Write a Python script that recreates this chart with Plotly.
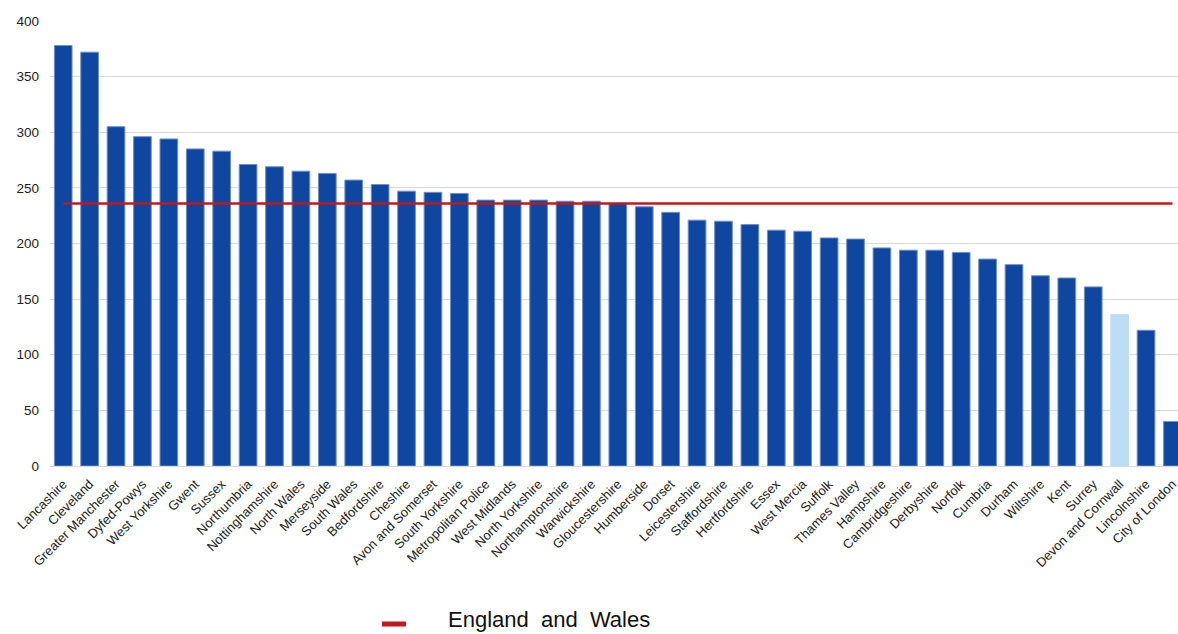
import plotly.graph_objects as go

forces = ["Lancashire", "Cleveland", "Greater Manchester", "Dyfed-Powys", "West Yorkshire",
          "Gwent", "Sussex", "Northumbria", "Nottinghamshire", "North Wales", "Merseyside",
          "South Wales", "Bedfordshire", "Cheshire", "Avon and Somerset", "South Yorkshire",
          "Metropolitan Police", "West Midlands", "North Yorkshire", "Northamptonshire",
          "Warwickshire", "Gloucestershire", "Humberside", "Dorset", "Leicestershire",
          "Staffordshire", "Hertfordshire", "Essex", "West Mercia", "Suffolk", "Thames Valley",
          "Hampshire", "Cambridgeshire", "Derbyshire", "Norfolk", "Cumbria", "Durham",
          "Wiltshire", "Kent", "Surrey", "Devon and Cornwall", "Lincolnshire", "City of London"]
values = [378, 372, 305, 296, 294, 285, 283, 271, 269, 265, 263, 257, 253, 247, 246, 245,
          239, 239, 239, 238, 238, 236, 233, 228, 221, 220, 217, 212, 211, 205, 204, 196,
          194, 194, 192, 186, 181, 171, 169, 161, 136, 122, 40]
highlight = "Devon and Cornwall"
england_wales = 236
y_ticks = [0, 50, 100, 150, 200, 250, 300, 350, 400]

DARK = "#0F47A0"
LIGHT = "#BDDDF7"
RED = "#C0191F"

idx = list(range(len(forces)))
colors = [LIGHT if f == highlight else DARK for f in forces]
edge = ["rgba(189,221,247,1)" if f == highlight else "#6F8FCB" for f in forces]

fig = go.Figure()
fig.add_trace(go.Bar(
    x=idx, y=values, width=0.67,
    marker=dict(color=colors, line=dict(color=edge, width=1)),
    showlegend=False, hovertext=forces,
))
fig.add_trace(go.Scatter(
    x=[idx[0], idx[-1]], y=[england_wales, england_wales], mode="lines",
    line=dict(color=RED, width=2.5), name="England and Wales", showlegend=False,
))

W, H = 1178, 634
ml, mr, mt, mb = 50, 0, 21, 168
pw, ph = W - ml - mr, H - mt - mb

def px_x(p):
    return (p - ml) / pw

def px_y(p):
    return (H - mb - p) / ph

fig.add_shape(type="line", xref="paper", yref="paper",
              x0=px_x(382), x1=px_x(406), y0=px_y(624), y1=px_y(624),
              line=dict(color=RED, width=5))
fig.add_annotation(xref="paper", yref="paper", x=px_x(446), y=px_y(620),
                   xanchor="left", yanchor="middle", showarrow=False,
                   text="England  and  Wales",
                   font=dict(family="Liberation Sans, Arial, sans-serif", size=22, color="#111111"))

fig.update_layout(
    width=W, height=H,
    margin=dict(l=ml, r=mr, t=mt, b=mb),
    plot_bgcolor="white", paper_bgcolor="white",
    font=dict(family="Liberation Sans, Arial, sans-serif", color="#222222"),
    bargap=0.33,
)
fig.update_xaxes(
    range=[-0.5, 42.21], tickmode="array", tickvals=idx, ticktext=forces,
    tickangle=-45, tickfont=dict(size=13, color="#222222"),
    showgrid=False, zeroline=False, showline=False, ticks="",
    ticklabelstandoff=7, ticklabeloverflow="allow",
)
fig.update_yaxes(
    range=[0, 400], tickmode="array", tickvals=y_ticks,
    tickfont=dict(size=13.5, color="#222222"),
    showgrid=True, gridcolor="#D9D9D9", gridwidth=1,
    zeroline=True, zerolinecolor="#D9D9D9", zerolinewidth=1,
    showline=False, ticks="", ticklabelstandoff=10,
)

fig.write_html("out.html")
